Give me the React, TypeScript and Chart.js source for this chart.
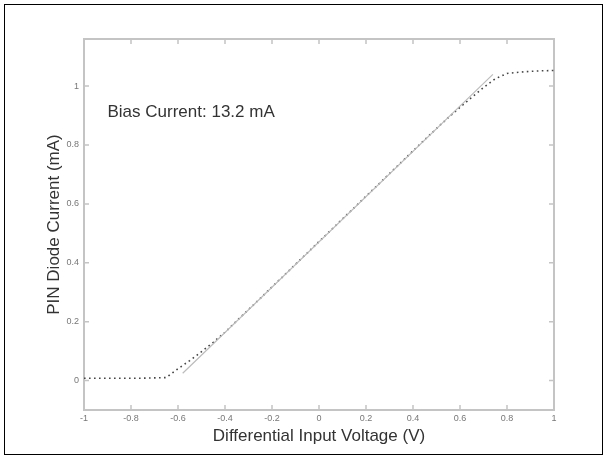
import React, { useEffect, useRef } from "react";
import { Chart, registerables } from "chart.js";

Chart.register(...registerables);

// Measured PIN diode current vs differential input voltage
const voltage = [
  -1.0, -0.95, -0.9, -0.85, -0.8, -0.75, -0.7, -0.65, -0.6, -0.55, -0.5, -0.45, -0.4, -0.35, -0.3,
  -0.25, -0.2, -0.15, -0.1, -0.05, 0.0, 0.05, 0.1, 0.15, 0.2, 0.25, 0.3, 0.35, 0.4, 0.45, 0.5,
  0.55, 0.6, 0.65, 0.7, 0.75, 0.8, 0.85, 0.9, 0.95, 1.0,
];
const current = [
  0.008, 0.008, 0.008, 0.008, 0.008, 0.008, 0.009, 0.01, 0.04, 0.068, 0.098, 0.13, 0.164, 0.203,
  0.241, 0.279, 0.318, 0.356, 0.395, 0.433, 0.472, 0.51, 0.549, 0.587, 0.626, 0.664, 0.703, 0.741,
  0.78, 0.818, 0.856, 0.893, 0.928, 0.962, 0.995, 1.025, 1.043, 1.047, 1.05, 1.052, 1.053,
];
// Ideal linear fit
const fitVoltage = [-0.58, 0.74];
const fitCurrent = [0.025, 1.04];

const xTicks = [-1, -0.8, -0.6, -0.4, -0.2, 0, 0.2, 0.4, 0.6, 0.8, 1];
const xTickLabels = ["-1", "-0.8", "-0.6", "-0.4", "-0.2", "0", "0.2", "0.4", "0.6", "0.8", "1"];
const yTicks = [0, 0.2, 0.4, 0.6, 0.8, 1];
const yTickLabels = ["0", "0.2", "0.4", "0.6", "0.8", "1"];

const annotationText = "Bias Current: 13.2 mA";
const annotationAt = { x: -0.9, y: 0.91 };

const FONT = "'Liberation Sans', Arial, sans-serif";

const boxPlugin = {
  id: "boxPlugin",
  beforeDatasetsDraw(chart: any) {
    const { ctx, chartArea: a, scales } = chart;
    const xs = scales.x;
    const ys = scales.y;
    ctx.save();
    ctx.strokeStyle = "#c4c4c4";
    ctx.lineWidth = 2;
    ctx.strokeRect(a.left, a.top, a.right - a.left, a.bottom - a.top);
    ctx.lineWidth = 1.5;
    const tl = 5;
    ctx.beginPath();
    xTicks.forEach((v) => {
      const px = xs.getPixelForValue(v);
      ctx.moveTo(px, a.bottom);
      ctx.lineTo(px, a.bottom - tl);
      ctx.moveTo(px, a.top);
      ctx.lineTo(px, a.top + tl);
    });
    yTicks.forEach((v) => {
      const py = ys.getPixelForValue(v);
      ctx.moveTo(a.left, py);
      ctx.lineTo(a.left + tl, py);
      ctx.moveTo(a.right, py);
      ctx.lineTo(a.right - tl, py);
    });
    ctx.stroke();
    // annotation
    ctx.fillStyle = "#333";
    ctx.font = `17px ${FONT}`;
    ctx.textAlign = "left";
    ctx.textBaseline = "middle";
    ctx.fillText(annotationText, xs.getPixelForValue(annotationAt.x), ys.getPixelForValue(annotationAt.y));
    ctx.restore();
  },
};

export default function App() {
  const ref = useRef<HTMLCanvasElement | null>(null);
  useEffect(() => {
    if (!ref.current) return;
    const chart = new Chart(ref.current, {
      type: "line",
      data: {
        datasets: [
          {
            label: "fit",
            data: fitVoltage.map((v, i) => ({ x: v, y: fitCurrent[i] })),
            borderColor: "#bcbcbc",
            borderWidth: 1.2,
            pointRadius: 0,
            fill: false,
          },
          {
            label: "measured",
            data: voltage.map((v, i) => ({ x: v, y: current[i] })),
            borderColor: "#444",
            borderWidth: 1.6,
            borderDash: [1.6, 3.4],
            pointRadius: 0,
            fill: false,
          },
        ],
      },
      options: {
        animation: false,
        responsive: false,
        maintainAspectRatio: false,
        layout: { padding: { left: 0, top: 39, right: 51, bottom: 0 } },
        plugins: { legend: { display: false }, tooltip: { enabled: false } },
        scales: {
          x: {
            type: "linear",
            min: -1,
            max: 1,
            grid: { display: false, drawTicks: false },
            border: { display: false },
            afterBuildTicks: (s: any) => {
              s.ticks = xTicks.map((v) => ({ value: v }));
            },
            afterFit: (s: any) => {
              s.height = 47;
            },
            ticks: {
              padding: 3,
              maxRotation: 0,
              autoSkip: false,
              color: "#777",
              font: { size: 9, family: FONT },
              callback: (_v: any, i: number) => xTickLabels[i],
            },
            title: {
              display: true,
              text: "Differential Input Voltage (V)",
              color: "#333",
              font: { size: 17, family: FONT },
              padding: { top: 0, bottom: 10.8 },
            },
          },
          y: {
            type: "linear",
            min: -0.1,
            max: 1.16,
            grid: { display: false, drawTicks: false },
            border: { display: false },
            afterBuildTicks: (s: any) => {
              s.ticks = yTicks.map((v) => ({ value: v }));
            },
            afterFit: (s: any) => {
              s.width = 84;
            },
            ticks: {
              padding: 5,
              autoSkip: false,
              color: "#777",
              font: { size: 9, family: FONT },
              callback: (_v: any, i: number) => yTickLabels[i],
            },
            title: {
              display: true,
              text: "PIN Diode Current (mA)",
              color: "#333",
              font: { size: 17, family: FONT },
              padding: { top: 43.8, bottom: 0 },
            },
          },
        },
      },
      plugins: [boxPlugin],
    });
    return () => chart.destroy();
  }, []);
  return (
    <div style={{ position: "absolute", left: 0, top: 0, width: 605, height: 457, background: "#fff" }}>
      <canvas ref={ref} width={605} height={457} style={{ position: "absolute", left: 0, top: 0 }} />
      <div
        style={{
          position: "absolute",
          left: 4,
          top: 4,
          width: 597,
          height: 449,
          border: "1.5px solid #000",
          pointerEvents: "none",
        }}
      />
    </div>
  );
}
